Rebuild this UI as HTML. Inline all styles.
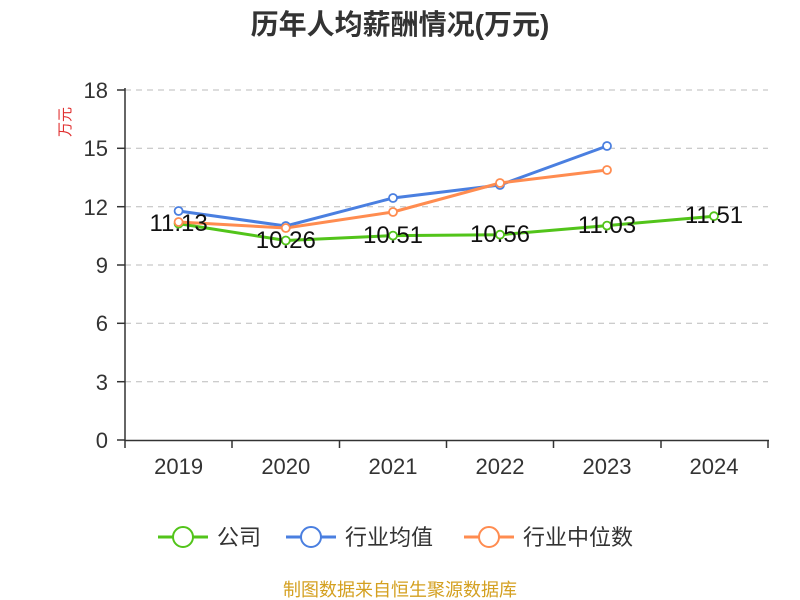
<!DOCTYPE html>
<html><head><meta charset="utf-8"><style>
body{margin:0;background:#fff}
svg{display:block;font-family:"Liberation Sans","Noto Sans CJK SC",sans-serif}
</style></head><body>
<svg width="800" height="600" xmlns="http://www.w3.org/2000/svg">
<text x="400" y="34" text-anchor="middle" font-size="28" font-weight="bold" fill="#333">历年人均薪酬情况(万元)</text>
<text transform="translate(70,122) rotate(-90)" text-anchor="middle" font-size="15" fill="#e03030">万元</text>
<g stroke="#bbb" stroke-dasharray="6,5" stroke-width="1">
<line x1="125" x2="768" y1="90" y2="90"/><line x1="125" x2="768" y1="148.3" y2="148.3"/>
<line x1="125" x2="768" y1="206.7" y2="206.7"/><line x1="125" x2="768" y1="265" y2="265"/>
<line x1="125" x2="768" y1="323.3" y2="323.3"/><line x1="125" x2="768" y1="381.7" y2="381.7"/>
</g>
<g stroke="#333" stroke-width="1.5">
<line x1="125" y1="88" x2="125" y2="441"/><line x1="125" y1="440.5" x2="769" y2="440.5"/>
<line x1="117" x2="125" y1="90" y2="90"/><line x1="117" x2="125" y1="148.3" y2="148.3"/><line x1="117" x2="125" y1="206.7" y2="206.7"/><line x1="117" x2="125" y1="265" y2="265"/><line x1="117" x2="125" y1="323.3" y2="323.3"/><line x1="117" x2="125" y1="381.7" y2="381.7"/><line x1="117" x2="125" y1="440" y2="440"/>
<line x1="125" x2="125" y1="440" y2="448"/><line x1="232" x2="232" y1="440" y2="448"/><line x1="339.5" x2="339.5" y1="440" y2="448"/><line x1="446.5" x2="446.5" y1="440" y2="448"/><line x1="553.5" x2="553.5" y1="440" y2="448"/><line x1="661" x2="661" y1="440" y2="448"/><line x1="768" x2="768" y1="440" y2="448"/>
</g>
<g font-size="22" fill="#333" text-anchor="end">
<text x="108" y="98">18</text><text x="108" y="156">15</text><text x="108" y="215">12</text><text x="108" y="273">9</text><text x="108" y="331">6</text><text x="108" y="390">3</text><text x="108" y="448">0</text>
</g>
<g font-size="22" fill="#333" text-anchor="middle">
<text x="178.6" y="474">2019</text><text x="285.8" y="474">2020</text><text x="393" y="474">2021</text><text x="500" y="474">2022</text><text x="607" y="474">2023</text><text x="714" y="474">2024</text>
</g>
<g fill="none" stroke-width="3" stroke-linejoin="round">
<polyline stroke="#52c41a" points="178.6,223.6 285.8,240.5 393,235.6 500,234.7 607,225.6 714,216.2"/>
<polyline stroke="#4a7fe0" points="178.6,211 285.8,226 393,198 500,185 607,146"/>
<polyline stroke="#ff8c50" points="178.6,222 285.8,228 393,212 500,183 607,170"/>
</g>
<g fill="#fff" stroke-width="1.8">
<g stroke="#52c41a"><circle cx="178.6" cy="223.6" r="4"/><circle cx="285.8" cy="240.5" r="4"/><circle cx="393" cy="235.6" r="4"/><circle cx="500" cy="234.7" r="4"/><circle cx="607" cy="225.6" r="4"/><circle cx="714" cy="216.2" r="4"/></g>
<g stroke="#4a7fe0"><circle cx="178.6" cy="211" r="4"/><circle cx="285.8" cy="226" r="4"/><circle cx="393" cy="198" r="4"/><circle cx="500" cy="185" r="4"/><circle cx="607" cy="146" r="4"/></g>
<g stroke="#ff8c50"><circle cx="178.6" cy="222" r="4"/><circle cx="285.8" cy="228" r="4"/><circle cx="393" cy="212" r="4"/><circle cx="500" cy="183" r="4"/><circle cx="607" cy="170" r="4"/></g>
</g>
<g font-size="24" fill="#111" text-anchor="middle">
<text x="178.6" y="231">11.13</text><text x="285.8" y="248">10.26</text><text x="393" y="243">10.51</text><text x="500" y="242">10.56</text><text x="607" y="233">11.03</text><text x="714" y="223">11.51</text>
</g>
<g font-size="22" fill="#333">
<line x1="158" x2="208" y1="537" y2="537" stroke="#52c41a" stroke-width="3"/><circle cx="183" cy="537" r="10" fill="#fff" stroke="#52c41a" stroke-width="2"/><text x="217" y="545">公司</text>
<line x1="286" x2="336" y1="537" y2="537" stroke="#4a7fe0" stroke-width="3"/><circle cx="311" cy="537" r="10" fill="#fff" stroke="#4a7fe0" stroke-width="2"/><text x="345" y="545">行业均值</text>
<line x1="464" x2="514" y1="537" y2="537" stroke="#ff8c50" stroke-width="3"/><circle cx="489" cy="537" r="10" fill="#fff" stroke="#ff8c50" stroke-width="2"/><text x="523" y="545">行业中位数</text>
</g>
<text x="400" y="596" text-anchor="middle" font-size="18" fill="#d4a020">制图数据来自恒生聚源数据库</text>
</svg>
</body></html>
